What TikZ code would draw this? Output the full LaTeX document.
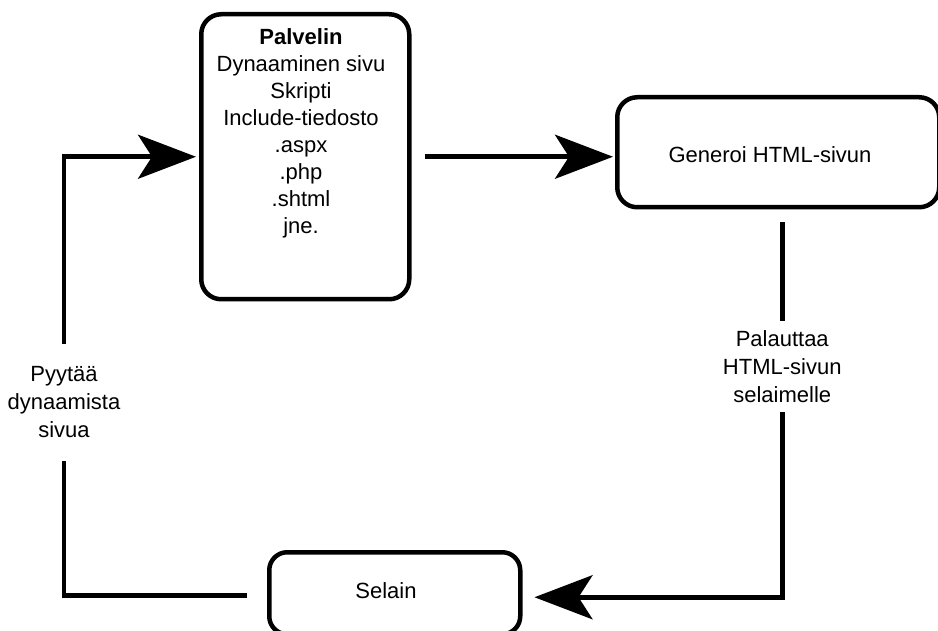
\documentclass[tikz,border=0pt]{standalone}
\usepackage{fontspec}
\setmainfont{Liberation Sans}
\usetikzlibrary{arrows.meta}
\begin{document}
\begin{tikzpicture}[x=1pt,y=-1pt,
  box/.style={draw, line width=4.5pt, rounded corners=20pt, inner sep=0pt},
  conn/.style={line width=4.5pt, -{Stealth[length=58pt,width=44pt,inset=14pt]}},
  lbl/.style={font=\fontsize{22}{28}\selectfont, align=center, fill=white, inner xsep=2pt},
  txt/.style={font=\fontsize{22}{27}\selectfont, align=center, inner sep=0pt}]
\useasboundingbox (0,0) rectangle (938,631);
% boxes
\node[box, minimum width=208pt, minimum height=285pt, anchor=north west] (srv) at (199,12) {};
\node[txt, anchor=north] (srvtxt) at (301,28) {\textbf{Palvelin}\\Dynaaminen sivu\\Skripti\\Include-tiedosto\\.aspx\\.php\\.shtml\\jne.};
\node[box, minimum width=322pt, minimum height=110pt, anchor=north west] (gen) at (615,95) {};
\node[txt] (gentxt) at (770,155) {Generoi HTML-sivun};
\node[box, rounded corners=18pt, minimum width=251pt, minimum height=82pt, anchor=north west] (sel) at (267,550) {};
\node[txt] (seltxt) at (386,591) {Selain};
\coordinate (lx) at (64,0);
% connectors
\draw[conn, shorten <=13pt, shorten >=2pt] (srv.east) -- (srv.east -| gen.west);
\draw[conn, shorten <=13pt, shorten >=12pt] ([xshift=4pt]gen.south) -- node[lbl, pos=0.405, inner ysep=9pt] {Palauttaa\\HTML-sivun\\selaimelle} ([xshift=4pt,yshift=-4pt]gen.south |- sel.east) -- ([yshift=-4pt]sel.east);
\draw[conn, shorten <=20pt, shorten >=3pt] ([yshift=-2pt]sel.west) -- ([yshift=-2pt]sel.west -| lx) -- node[lbl, pos=0.44, inner ysep=23pt] {Pyytää\\dynaamista\\sivua} (lx |- srv.west) -- (srv.west);
\end{tikzpicture}
\end{document}
